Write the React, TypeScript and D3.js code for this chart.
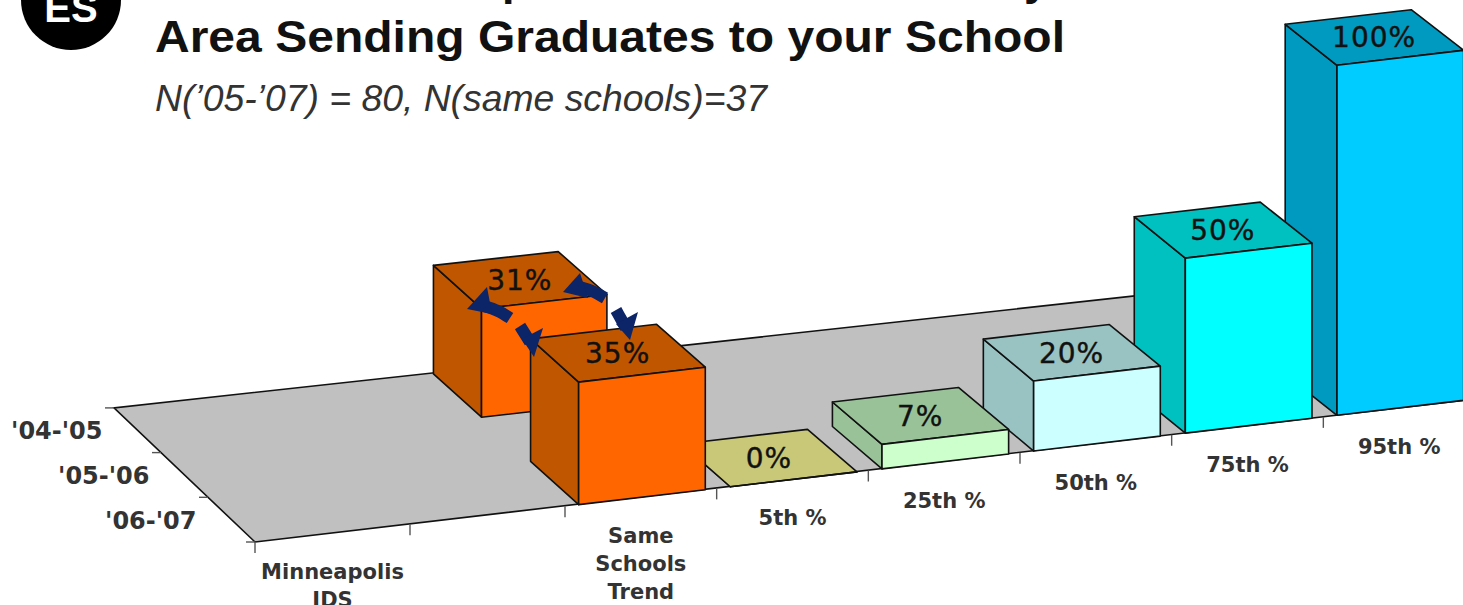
import React from "react";
import * as d3 from "d3";

// Percentile bars plus the two trend bars, one entry per bar.
const categories = ["Minneapolis\nJDS", "", "Same\nSchools\nTrend", "5th %", "25th %", "50th %", "75th %", "95th %"];
const rowLabels = ["'04-'05", "'05-'06", "'06-'07"];
const barColumn = [2, 2, 3, 4, 5, 6, 7];
const barRow = [0, 2, 2, 2, 2, 2, 2];
const barValues = [31, 35, 0, 7, 20, 50, 100];
const barFront = ["#ff6600", "#ff6600", "#cccc80", "#ccffcc", "#ccffff", "#00ffff", "#00ccff"];
const barShade = ["#c05600", "#c05600", "#c8c878", "#99c299", "#99c2c2", "#00c0c0", "#0099c0"];

// What survives of the heading line that runs off the top of the slide.
const clippedHeadingLetters = ["p", "y"];
const clippedHeadingX = [502, 1024];

const W = 1463;
const H = 605;
const COLUMN_SLOTS = 8;
const ROW_SLOTS = 3;
const BAR_INSET = 0.09; // gap between a column boundary and its bar, in column units
const BAR_WIDTH = 0.835;
const BAR_DEPTH = 0.99;

// The first two column slots come out slightly wider under the chart's perspective.
const colX = d3.scaleLinear().domain([0, 1, 2, COLUMN_SLOTS]).range([255, 410, 565, 1475]);
const colY = d3.scaleLinear().domain([0, COLUMN_SLOTS]).range([542, 399]);
const depthDx = d3.scaleLinear().domain([0, COLUMN_SLOTS]).range([47, 53]);
const depthDy = d3.scaleLinear().domain([0, COLUMN_SLOTS]).range([44.7, 41]);
const heightPx = d3.scaleLinear().domain([0, 100]).range([0, 350]);

// Oblique projection: column position, depth from the front edge, value above the floor.
function project(c: number, d: number, v = 0): [number, number] {
  return [colX(c) - d * depthDx(c), colY(c) - d * depthDy(c) - heightPx(v)];
}

const poly = (pts: [number, number][]) => (d3.line()(pts) as string) + "Z";

interface BarGeom {
  front: [number, number][];
  side: [number, number][];
  top: [number, number][];
  label: [number, number];
}

function barGeometry(i: number): BarGeom {
  const c0 = barColumn[i] + BAR_INSET;
  const c1 = c0 + BAR_WIDTH;
  const d0 = ROW_SLOTS - 1 - barRow[i];
  const d1 = d0 + BAR_DEPTH;
  const v = barValues[i];
  const a = project(c0, d0, v);
  const b = project(c1, d0, v);
  const e = project(c1, d1, v);
  const f = project(c0, d1, v);
  return {
    front: [a, b, project(c1, d0), project(c0, d0)],
    side: [f, a, project(c0, d0), project(c0, d1)],
    top: [a, b, e, f],
    label: [(a[0] + e[0]) / 2, (a[1] + e[1]) / 2],
  };
}

// One piece of a broken trend arrow: a curved shaft ending in a barbed head.
function TrendArrow({ shaft, head }: { shaft: [number, number][]; head: [number, number][] }) {
  const curve = d3.line().curve(d3.curveCatmullRom);
  return (
    <g>
      <path d={curve(shaft) as string} fill="none" stroke="#0c2468" strokeWidth={12} />
      <path d={poly(head)} fill="#0c2468" />
    </g>
  );
}

export default function App() {
  const floor: [number, number][] = [
    project(0, 0), project(COLUMN_SLOTS, 0), project(COLUMN_SLOTS, ROW_SLOTS), project(0, ROW_SLOTS),
  ];
  const bars = barValues.map((_, i) => barGeometry(i));
  const order = d3.range(bars.length).sort((p, q) => barRow[p] - barRow[q] || barColumn[q] - barColumn[p]);
  const labelFont = "'DejaVu Sans', Verdana, sans-serif";
  const titleFont = "'Liberation Sans', Arial, sans-serif";

  return (
    <svg width={W} height={H} viewBox={`0 0 ${W} ${H}`} style={{ position: "absolute", left: 0, top: 0, background: "#fff" }}>
      <circle cx={71} cy={0} r={50} fill="#000" />
      <text x={71} y={22} textAnchor="middle" fill="#fff" fontFamily={titleFont} fontWeight="bold" fontSize={40}>ES</text>
      {clippedHeadingLetters.map((ch, i) => (
        <text key={ch} x={clippedHeadingX[i]} y={-5} fontFamily={titleFont} fontWeight="bold" fontSize={45} fill="#111">{ch}</text>
      ))}
      <text x={155} y={52} fontFamily={titleFont} fontWeight="bold" fontSize={45} fill="#111" textLength={910} lengthAdjust="spacingAndGlyphs">Area Sending Graduates to your School</text>
      <text x={155} y={111} fontFamily={titleFont} fontStyle="italic" fontSize={36} fill="#333" textLength={612} lengthAdjust="spacingAndGlyphs">N(’05-’07) = 80, N(same schools)=37</text>

      <path d={poly(floor)} fill="#c0c0c0" stroke="#111" strokeWidth={1.6} />

      {/* column boundary ticks under the front edge */}
      {d3.range(0, COLUMN_SLOTS).map((c) => {
        const [x, y] = project(c, 0);
        return <line key={c} x1={x} x2={x} y1={y} y2={y + 11} stroke="#555" strokeWidth={1.4} />;
      })}
      {/* row ticks along the left edge */}
      {d3.range(0, ROW_SLOTS + 1).map((d) => {
        const [x, y] = project(0, d);
        return <line key={d} x1={x - 9} x2={x} y1={y} y2={y} stroke="#555" strokeWidth={1.4} />;
      })}

      {order.map((i) => {
        const g = bars[i];
        return (
          <g key={i} stroke="#111" strokeWidth={1.6} strokeLinejoin="round">
            <path d={poly(g.side)} fill={barShade[i]} />
            <path d={poly(g.top)} fill={barShade[i]} />
            <path d={poly(g.front)} fill={barFront[i]} />
            <text x={g.label[0]} y={g.label[1] + 10} textAnchor="middle" fontFamily={labelFont} fontSize={28} letterSpacing={1} fill="#111" stroke="#111" strokeWidth={0.4}>{barValues[i]}%</text>
          </g>
        );
      })}

      <TrendArrow shaft={[[510, 318], [498, 311], [484, 306]]} head={[[467, 309], [487, 287], [492, 314]]} />
      <TrendArrow shaft={[[520, 326], [525, 334], [530, 342]]} head={[[534, 357], [543, 328], [522, 339]]} />
      <TrendArrow shaft={[[605, 298], [592, 291], [580, 287]]} head={[[563, 292], [580, 273], [588, 298]]} />
      <TrendArrow shaft={[[616, 310], [621, 319], [626, 328]]} head={[[630, 340], [638, 312], [616, 324]]} />

      {/* labels along the front edge */}
      {categories.map((label, c) => {
        const [x, y] = project(c + 0.5, 0);
        return (
          <text key={c} textAnchor="middle" fontFamily={labelFont} fontWeight="bold" fontSize={21} fill="#333">
            {label.split("\n").map((line, k) => (
              <tspan key={k} x={x} y={y + 46 + k * 28}>{line}</tspan>
            ))}
          </text>
        );
      })}
      {/* labels along the left edge */}
      {rowLabels.map((label, r) => {
        const [x, y] = project(0, ROW_SLOTS - r - 0.5);
        return (
          <text key={label} x={x - 35} y={y + 9} textAnchor="end" fontFamily={labelFont} fontWeight="bold" fontSize={24} fill="#333">{label}</text>
        );
      })}
    </svg>
  );
}
